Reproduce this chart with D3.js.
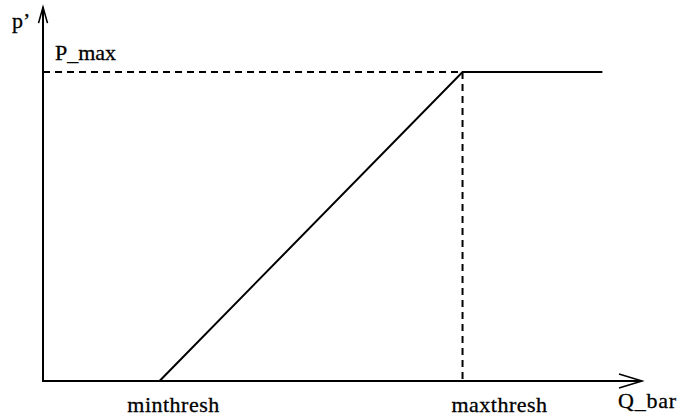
<!DOCTYPE html>
<html>
<head>
<meta charset="utf-8">
<script src="https://cdn.jsdelivr.net/npm/d3@7"></script>
<style>
  body { margin: 0; background: #fff; }
</style>
</head>
<body>
<svg id="chart"></svg>
<script>
// RED drop probability curve
const qbar = [5, 18, 24];        // minthresh, maxthresh, end of flat part
const prob = [0, 1, 1];          // p' at those points
const xLabels = ["minthresh", "maxthresh"];
const xLabelPos = [5, 18];
const xMaxAxis = 25.7;
const yMaxAxis = 1.21;

const width = 684;
const height = 420;

const svg = d3.select("#chart")
  .attr("width", width)
  .attr("height", height);

const xScale = d3.scaleLinear()
  .domain([0, xMaxAxis])
  .range([43, 642]);

const yScale = d3.scaleLinear()
  .domain([0, 1])
  .range([381, 72]);

// axes
svg.append("line")
  .attr("x1", xScale(0)).attr("y1", yScale(0))
  .attr("x2", xScale(xMaxAxis)).attr("y2", yScale(0))
  .attr("stroke", "#000").attr("stroke-width", 2);

svg.append("line")
  .attr("x1", xScale(0)).attr("y1", yScale(0) + 1)
  .attr("x2", xScale(0)).attr("y2", yScale(yMaxAxis))
  .attr("stroke", "#000").attr("stroke-width", 2);

// open arrow heads
const xt = [xScale(xMaxAxis), yScale(0)];
svg.append("path")
  .attr("d", `M${xt[0] - 23},${xt[1] - 7}L${xt[0]},${xt[1]}L${xt[0] - 23},${xt[1] + 7}`)
  .attr("fill", "none").attr("stroke", "#000").attr("stroke-width", 1.6);

const yt = [xScale(0), yScale(yMaxAxis)];
svg.append("path")
  .attr("d", `M${yt[0] - 4.5},${yt[1] + 16}L${yt[0]},${yt[1]}L${yt[0] + 4.5},${yt[1] + 16}`)
  .attr("fill", "none").attr("stroke", "#000").attr("stroke-width", 1.6);

// dashed guides at maxthresh / P_max
svg.append("line")
  .attr("x1", xScale(0)).attr("y1", yScale(1))
  .attr("x2", xScale(qbar[1])).attr("y2", yScale(1))
  .attr("stroke", "#000").attr("stroke-width", 2)
  .attr("stroke-dasharray", "7,5");

svg.append("line")
  .attr("x1", xScale(qbar[1])).attr("y1", yScale(1))
  .attr("x2", xScale(qbar[1])).attr("y2", yScale(0))
  .attr("stroke", "#000").attr("stroke-width", 2)
  .attr("stroke-dasharray", "7,5");

// the curve
const line = d3.line()
  .x((d, i) => xScale(qbar[i]))
  .y(d => yScale(d));

svg.append("path")
  .datum(prob)
  .attr("d", line)
  .attr("fill", "none")
  .attr("stroke", "#000")
  .attr("stroke-width", 2);

// labels
function label(sel) {
  sel.style("font-family", "\"Liberation Serif\"")
    .style("font-size", "22px")
    .attr("fill", "#000")
    .attr("stroke", "#000")
    .attr("stroke-width", 0.3);
}

svg.selectAll("text.xlab")
  .data(xLabels)
  .enter()
  .append("text")
  .attr("class", "xlab")
  .attr("x", (d, i) => xScale(xLabelPos[i]) + (i === 0 ? 14 : 37))
  .attr("y", 412)
  .attr("text-anchor", "middle")
  .attr("letter-spacing", 0.5)
  .text(d => d)
  .call(label);

svg.append("text")
  .attr("x", 618)
  .attr("y", 408)
  .attr("letter-spacing", 0.8)
  .text("Q_bar")
  .call(label);

svg.append("text")
  .attr("x", 12)
  .attr("y", 28)
  .text("p\u2019")
  .call(label);

svg.append("text")
  .attr("x", 55)
  .attr("y", 60)
  .text("P_max")
  .call(label);
</script>
</body>
</html>
